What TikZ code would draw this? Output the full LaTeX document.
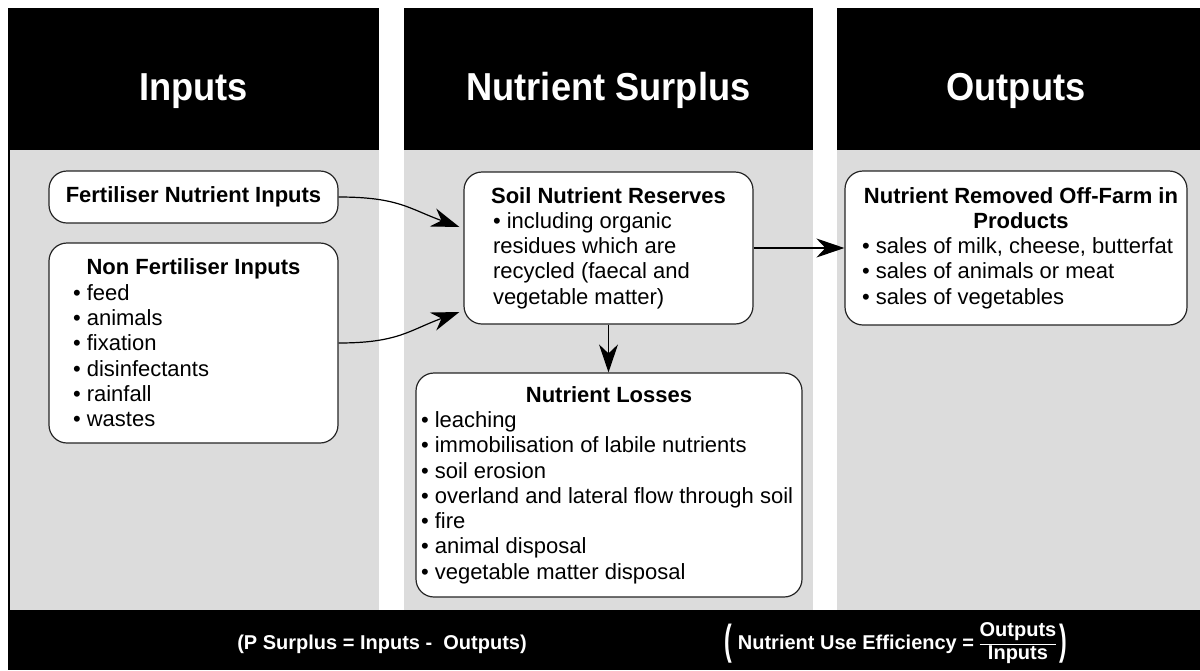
\documentclass[tikz,border=0pt]{standalone}
\usepackage{fontspec}
\usepackage{graphicx}
\setmainfont{Liberation Sans}
\usetikzlibrary{arrows.meta,calc}
\definecolor{panelgray}{RGB}{220,220,220}
\newcommand{\bul}{\textbullet\ }
\newcommand{\ttl}[1]{\makebox[\linewidth][c]{\bfseries #1}\par}
\newcommand{\boxtext}[3]{\parbox{#1}{\fontsize{22}{25.3}\selectfont#2\raggedright #3}}
\tikzset{
  box/.style={draw=black!85, fill=white, rounded corners=18pt, line width=1.2pt, inner sep=0pt,
              font=\fontsize{22}{25.3}\selectfont},
  hdr/.style={text=white, anchor=base, inner sep=0pt, font=\fontsize{39}{42}\selectfont\bfseries},
  foot/.style={text=white, anchor=base, inner sep=0pt, font=\fontsize{20}{24}\selectfont\bfseries},
  conn/.style={line width=1.2pt, draw=black, -{Stealth[length=28pt,width=19pt,inset=9pt]}}
}
\begin{document}
\begin{tikzpicture}[x=1pt,y=-1pt]
\useasboundingbox (0,0) rectangle (1200,670);
% background panels
\fill[white] (0,0) rectangle (1200,670);
\fill[black] (8,8) rectangle (1200,670);
\fill[panelgray] (10,150) rectangle (1200,610);
\fill[white] (379,0) rectangle (404,610);
\fill[white] (813,0) rectangle (837,610);
% headers
\node[hdr] (hin) at (193.5,100) {\scalebox{0.93}[1]{Inputs}};
\node[hdr] (hsur) at (608.5,100) {\scalebox{0.93}[1]{Nutrient Surplus}};
\node[hdr] (hout) at (1016,100) {\scalebox{0.93}[1]{Outputs}};
% boxes
\node[box, minimum width=289pt, minimum height=52pt] (fert) at (193.5,197)
  {\bfseries Fertiliser Nutrient Inputs};
\node[box, minimum width=289pt, minimum height=200pt] (nonfert) at (193.5,343)
  {\boxtext{241pt}{\ttl{Non Fertiliser Inputs}}{\bul feed\\ \bul animals\\ \bul fixation\\ \bul disinfectants\\ \bul rainfall\\ \bul wastes}};
\node[box, minimum width=289pt, minimum height=152pt] (soil) at (608.5,248)
  {\boxtext{231pt}{\ttl{Soil Nutrient Reserves}}{\bul including organic\\ residues which are\\ recycled (faecal and\\ vegetable matter)}};
\node[box, minimum width=386pt, minimum height=224pt] (loss) at (609,485)
  {\boxtext{376pt}{\ttl{Nutrient Losses}}{\mbox{\bul leaching}\\ \mbox{\bul immobilisation of labile nutrients}\\ \mbox{\bul soil erosion}\\ \mbox{\bul overland and lateral flow through soil}\\ \mbox{\bul fire}\\ \mbox{\bul animal disposal}\\ \mbox{\bul vegetable matter disposal}}};
\node[box, minimum width=342pt, minimum height=154pt] (out) at (1016,248)
  {\hspace*{10pt}\boxtext{318pt}{\ttl{Nutrient Removed Off-Farm in}\ttl{Products}}{\mbox{\bul sales of milk, cheese, butterfat}\\ \mbox{\bul sales of animals or meat}\\ \mbox{\bul sales of vegetables}}};
% connectors
\draw[conn] (fert.east) .. controls +(60,0) and +(-50,-18) .. ($(soil.west)+(-4,-21)$);
\draw[conn] (nonfert.east) .. controls +(60,0) and +(-50,18) .. ($(soil.west)+(-4,64)$);
\draw[conn] (soil.east) -- (out.west);
\draw[conn] (soil.south) -- (soil.south |- loss.north);
% footer
\node[foot] (psur) at (382,649) {(P Surplus = Inputs -\ \ Outputs)};
\node[foot] (eff) at (896,649) {\raisebox{-5pt}{\scalebox{1.15}[2.1]{(}}\ Nutrient Use Efficiency = {\renewcommand{\arraystretch}{0.95}\begin{tabular}[c]{@{}c@{}}Outputs\\\hline Inputs\end{tabular}}\,\raisebox{-5pt}{\scalebox{1.15}[2.1]{)}}};
\end{tikzpicture}
\end{document}
